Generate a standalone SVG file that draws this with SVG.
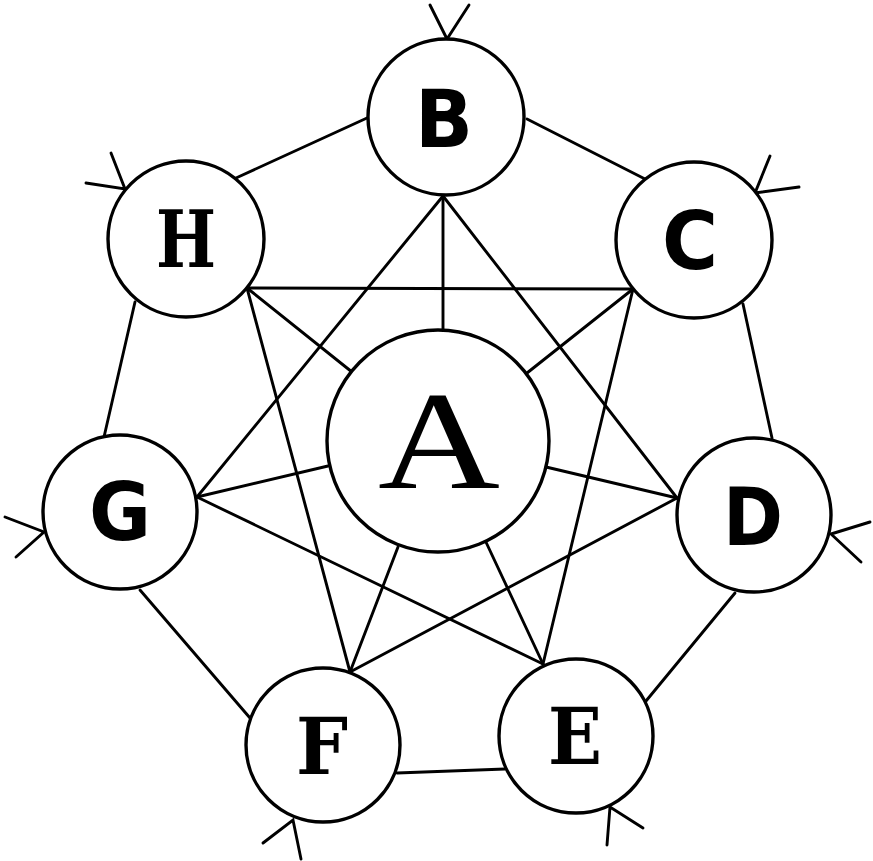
<svg xmlns="http://www.w3.org/2000/svg" width="873" height="861" viewBox="0 0 873 861">
<style>
.ring{fill:#fff;stroke:#000;stroke-width:3.4}
.ln{fill:none;stroke:#000;stroke-width:2.9;stroke-linecap:round;stroke-linejoin:miter}
.sans{font-family:"DejaVu Sans","Liberation Sans",sans-serif;font-weight:bold;font-size:80px;fill:#000}
.serif{font-family:"DejaVu Serif","Liberation Serif",serif;font-weight:bold;font-size:78px;fill:#000}
.big{font-family:"Liberation Serif","DejaVu Serif",serif;font-size:139px;fill:#000}
</style>
<rect width="873" height="861" fill="#fff"/>
<g id="connectors">
  <!-- outer ring -->
  <line class="ln" x1="236" y1="178" x2="367" y2="118"/>
  <line class="ln" x1="527" y1="119" x2="645" y2="179"/>
  <line class="ln" x1="743" y1="304" x2="772" y2="438"/>
  <line class="ln" x1="735" y1="593" x2="646" y2="701"/>
  <line class="ln" x1="397" y1="773" x2="505" y2="769"/>
  <line class="ln" x1="140" y1="590" x2="250" y2="718"/>
  <line class="ln" x1="104" y1="437" x2="135" y2="302"/>
  <!-- heptagram -->
  <line class="ln" x1="443" y1="196" x2="197" y2="497"/>
  <line class="ln" x1="443" y1="196" x2="677" y2="498"/>
  <line class="ln" x1="247" y1="288" x2="633" y2="289"/>
  <line class="ln" x1="633" y1="289" x2="543" y2="664"/>
  <line class="ln" x1="247" y1="288" x2="350" y2="672"/>
  <line class="ln" x1="197" y1="497" x2="543" y2="664"/>
  <line class="ln" x1="350" y1="672" x2="677" y2="498"/>
  <!-- spokes to A -->
  <line class="ln" x1="443" y1="196" x2="443" y2="331"/>
  <line class="ln" x1="633" y1="289" x2="527" y2="373"/>
  <line class="ln" x1="247" y1="288" x2="352" y2="372"/>
  <line class="ln" x1="197" y1="497" x2="328" y2="466"/>
  <line class="ln" x1="350" y1="672" x2="398" y2="547"/>
  <line class="ln" x1="543" y1="664" x2="485" y2="540"/>
  <line class="ln" x1="677" y1="498" x2="546" y2="467"/>
  <!-- incoming arrows -->
  <polyline class="ln" points="430,5 447,39 469,5"/>
  <polyline class="ln" points="111,153 125,189 86,183"/>
  <polyline class="ln" points="770,156 755,193 799,187"/>
  <polyline class="ln" points="5,517 44,532 16,557"/>
  <polyline class="ln" points="870,522 831,534 861,562"/>
  <polyline class="ln" points="263,843 293,820 301,859"/>
  <polyline class="ln" points="607,845 610,807 643,828"/>
</g>
<g id="node-A">
  <circle class="ring" cx="438" cy="441" r="111" stroke-width="3.8"/>
  <text class="big" x="439" y="488" text-anchor="middle" textLength="122" lengthAdjust="spacingAndGlyphs">A</text>
</g>
<g id="node-B">
  <circle class="ring" cx="446" cy="117" r="78"/>
  <text class="sans" x="444" y="147" text-anchor="middle" textLength="58" lengthAdjust="spacingAndGlyphs">B</text>
</g>
<g id="node-C">
  <circle class="ring" cx="694" cy="240" r="78"/>
  <text class="sans" x="690" y="269" text-anchor="middle" textLength="56" lengthAdjust="spacingAndGlyphs">C</text>
</g>
<g id="node-D">
  <circle class="ring" cx="754" cy="515" r="77"/>
  <text class="sans" x="753" y="545" text-anchor="middle" textLength="60" lengthAdjust="spacingAndGlyphs">D</text>
</g>
<g id="node-E">
  <circle class="ring" cx="576" cy="736" r="77"/>
  <text class="serif" x="575" y="764" text-anchor="middle" textLength="54" lengthAdjust="spacingAndGlyphs">E</text>
</g>
<g id="node-F">
  <circle class="ring" cx="323" cy="745" r="77"/>
  <text class="serif" x="322" y="774" text-anchor="middle" textLength="52" lengthAdjust="spacingAndGlyphs">F</text>
</g>
<g id="node-G">
  <circle class="ring" cx="120" cy="512" r="77"/>
  <text class="sans" x="120" y="540" text-anchor="middle" textLength="62" lengthAdjust="spacingAndGlyphs">G</text>
</g>
<g id="node-H">
  <circle class="ring" cx="186" cy="239" r="78"/>
  <text class="serif" x="186" y="267" text-anchor="middle" textLength="60" lengthAdjust="spacingAndGlyphs">H</text>
</g>
</svg>
